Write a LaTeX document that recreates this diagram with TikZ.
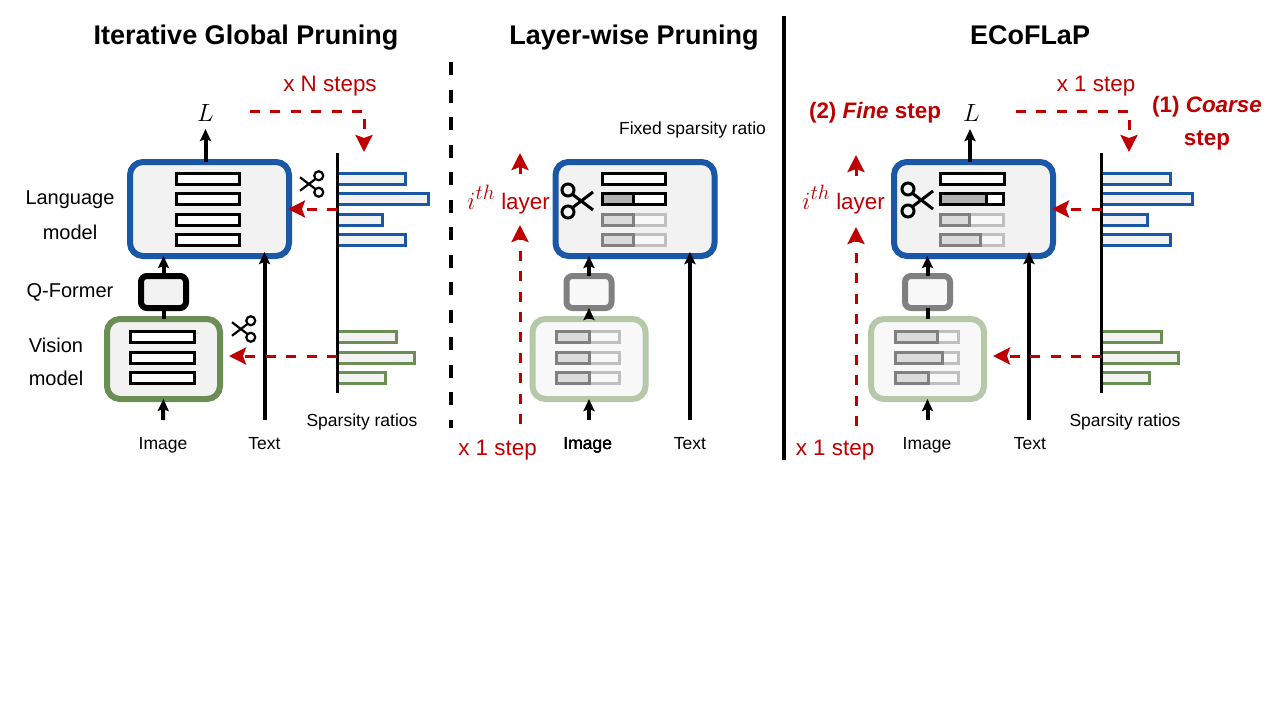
\documentclass[tikz,border=0pt]{standalone}
\usepackage{fontspec}
\setmainfont{Liberation Sans}
\usetikzlibrary{arrows.meta}
\definecolor{langblue}{HTML}{1A57A6}
\definecolor{visgreen}{HTML}{6B8E55}
\definecolor{fadegreen}{HTML}{B5C9A9}
\definecolor{stepred}{HTML}{C00000}
\definecolor{boxfill}{HTML}{F2F2F2}
\definecolor{fadefill}{HTML}{F8F8F8}
\tikzset{
  modelbox/.style={rectangle, outer sep=0pt, inner sep=0pt, rounded corners=13pt, line width=6pt, fill=boxfill},
  langbox/.style={modelbox, draw=langblue, minimum width=159pt, minimum height=94pt},
  qbox/.style={modelbox, draw=black, rounded corners=6pt, minimum width=45pt, minimum height=32pt},
  visbox/.style={modelbox, draw=visgreen, minimum width=113pt, minimum height=80pt},
  fadeq/.style={qbox, draw=black!50, fill=fadefill},
  fadevis/.style={visbox, draw=fadegreen, fill=fadefill},
  flow/.style={line width=4pt, -{Stealth[length=12pt,width=11pt,inset=2pt]}},
  plainline/.style={line width=4pt},
  redflow/.style={draw=stepred, line width=3pt, dash pattern=on 10pt off 10.4pt, -{Stealth[length=17pt,width=17pt,inset=3pt]}},
  layerbar/.style={draw=black, line width=3pt, fill=white},
  ratioblue/.style={draw=langblue, line width=3pt, fill=boxfill},
  ratiogreen/.style={draw=visgreen, line width=3pt, fill=boxfill},
  axisline/.style={line width=3pt},
  title/.style={font=\fontsize{27}{27}\selectfont\bfseries, inner sep=0pt, anchor=base},
  side/.style={font=\fontsize{20}{20}\selectfont, inner sep=0pt, anchor=base},
  small/.style={font=\fontsize{17.5}{17.5}\selectfont, inner sep=0pt, anchor=base},
  redtext/.style={font=\fontsize{22.4}{22.4}\selectfont, text=stepred, inner sep=0pt, anchor=base},
  redbold/.style={redtext, font=\fontsize{22.4}{22.4}\selectfont\bfseries},
  lossname/.style={font=\fontsize{24}{24}\selectfont, inner sep=0pt, anchor=base},
  shears/.pic={
    \draw (-13,-11) circle (6);
    \draw (-13,11) circle (6);
    \draw (-9,-7) -- (12,9);
    \draw (-9,7) -- (12,-9);
  },
  bigcut/.style={line width=3pt},
  smallcut/.style={line width=2.2pt, xscale=-0.75, yscale=0.75}
}
% bar of a layer with the pruned part on its left
\newcommand{\cutbar}[3]{
  \fill[white] (#1,#2-5.5) rectangle (#1+63,#2+5.5);
  \fill[black!30] (#1,#2-5.5) rectangle (#3,#2+5.5);
  \draw[line width=3pt] (#1,#2-5.5) rectangle (#1+63,#2+5.5);
  \draw[line width=3pt] (#3,#2-5.5) -- (#3,#2+5.5);
}
\newcommand{\fadebar}[3]{
  \draw[draw=black!25, fill=fadefill, line width=3pt] (#3,#2-5.5) rectangle (#1+63,#2+5.5);
  \draw[draw=black!50, fill=black!14, line width=3pt] (#1,#2-5.5) rectangle (#3,#2+5.5);
}
\newcommand{\ithname}{{\fontsize{29}{29}\selectfont $i^{th}$} layer}
\begin{document}
\begin{tikzpicture}[x=1pt,y=-1pt]
\useasboundingbox[fill=white] (0,0) rectangle (1280,720);
% titles and separators
\node[title] (title1) at (246,44) {Iterative Global Pruning};
\node[title] (title2) at (634,44) {Layer-wise Pruning};
\node[title] (title3) at (1030,44) {ECoFLaP};
\coordinate (septop1) at (450.5,62);
\coordinate (sepbot1) at (450.5,428);
\coordinate (septop2) at (784,16);
\coordinate (sepbot2) at (784,460);
\draw[line width=4pt, dash pattern=on 13pt off 14.5pt] (septop1) -- (sepbot1);
\draw[line width=4pt] (septop2) -- (sepbot2);

% first panel
\node[langbox] (lang1) at (209.5,209) {};
\node[qbox] (qf1) at (163.5,292) {};
\node[visbox] (vis1) at (163.5,359) {};
\foreach \y in {178.5,199,219.5,240}
	\draw[layerbar] (176.5,\y-5.5) rectangle (239.5,\y+5.5);
\foreach \y in {337,357.5,378}
	\draw[layerbar] (130.5,\y-5.5) rectangle (194.5,\y+5.5);
\node[side] (langa) at (70,204) {Language};
\node[side] (langb) at (70,239) {model};
\node[side] (qname) at (70,297) {Q-Former};
\node[side] (visa) at (56,352) {Vision};
\node[side] (visb) at (56,385) {model};
\node[small] (image1) at (163,449.5) {Image};
\node[small] (text1) at (264.5,449.5) {Text};
\node[small] (ratios1) at (362,426) {Sparsity ratios};
\node[lossname] (loss1) at (205.5,121) {$L$};
\node[redtext] (steps1) at (330,91) {x N steps};
\coordinate (out1) at (205.5,129);
\coordinate (img1) at (163,420);
\coordinate (txt1) at (264.5,420);
\coordinate (txttip1) at (264.5,252);
\draw[flow] (lang1.north -| out1) -- (out1);
\draw[plainline] (vis1.north) -- (qf1.south);
\draw[flow] (qf1.north) -- (lang1.south -| qf1);
\draw[flow] (img1) -- (vis1.south);
\draw[flow] (txt1) -- (txttip1);
\coordinate (axtop1) at (337,153);
\coordinate (axbot1) at (337,393);
\foreach \w/\y in {406/178.5,429/199,383/219.5,406/240}
	\draw[ratioblue] (337,\y-5.5) rectangle (\w-1,\y+5.5);
\foreach \w/\y in {397/337,415/357.5,386/378}
	\draw[ratiogreen] (337,\y-5.5) rectangle (\w-1,\y+5.5);
\draw[axisline] (axtop1) -- (axbot1);
\coordinate (froma1) at (250,111);
\coordinate (toa1) at (364,152);
\coordinate (fromb1) at (337,209);
\coordinate (fromc1) at (337,356);
\draw[redflow] (froma1) -| (toa1);
\draw[redflow] (fromb1) -- (288,209);
\draw[redflow] (fromc1) -- (229,356);
\pic[smallcut] (cut1) at (309,184) {shears};
\pic[smallcut] (cut2) at (241,329) {shears};

% second panel
\node[langbox] (lang2) at (635,209) {};
\node[fadeq] (qf2) at (589,292) {};
\node[fadevis] (vis2) at (589,359) {};
\draw[layerbar] (602,173) rectangle (665,184);
\cutbar{602}{199}{633}
\fadebar{602}{219.5}{633}
\fadebar{602}{240}{633}
\foreach \y in {337,357.5,378}
	\fadebar{556}{\y}{589}
\node[small] (image2) at (587.7,449.5) {Image};
\node[small] (text2) at (690,449.5) {Text};
\node[small] (fixed) at (692.5,134) {Fixed sparsity ratio};
\node[redtext] (ilayer2) at (508.5,209) {\ithname};
\node[redtext] (once2) at (497.5,455) {x 1 step};
\coordinate (img2) at (589,420);
\coordinate (txt2) at (690,420);
\coordinate (txttip2) at (690,252);
\draw[flow] (qf2.north) -- (lang2.south -| qf2);
\draw[flow, line width=3pt] (vis2.north) -- (qf2.south);
\draw[flow] (img2) -- (vis2.south);
\draw[flow] (txt2) -- (txttip2);
\coordinate (upa2) at (520,424);
\coordinate (upb2) at (520,225);
\coordinate (upc2) at (520,174);
\coordinate (upd2) at (520,153);
\draw[redflow] (upa2) -- (upb2);
\draw[redflow] (upc2) -- (upd2);
\pic[bigcut] (cut3) at (581,201) {shears};

% third panel
\node[langbox] (lang3) at (973.5,209) {};
\node[fadeq] (qf3) at (927.5,292) {};
\node[fadevis] (vis3) at (927.5,359) {};
\draw[layerbar] (940.5,173) rectangle (1004.5,184);
\cutbar{940.5}{199}{986}
\fadebar{940.5}{219.5}{969}
\fadebar{940.5}{240}{980}
\fadebar{895.5}{337}{937}
\fadebar{895.5}{357.5}{942}
\fadebar{895.5}{378}{928}
\node[small] (image3) at (927,449.5) {Image};
\node[small] (text3) at (1030,449.5) {Text};
\node[small] (ratios3) at (1125,426) {Sparsity ratios};
\node[lossname] (loss3) at (971.5,121) {$L$};
\node[redtext] (once3) at (1096,91) {x 1 step};
\node[redbold] (fine) at (875,118) {(2) \textit{Fine} step};
\node[redbold] (coarsea) at (1207,112) {(1) \textit{Coarse}};
\node[redbold] (coarseb) at (1207,145) {step};
\node[redtext] (ilayer3) at (843.5,209) {\ithname};
\node[redtext] (twice3) at (835,455) {x 1 step};
\coordinate (out3) at (970,129);
\coordinate (img3) at (927.5,420);
\coordinate (txt3) at (1029,420);
\coordinate (txttip3) at (1029,252);
\draw[flow] (lang3.north -| out3) -- (out3);
\draw[plainline] (vis3.north) -- (qf3.south);
\draw[flow] (qf3.north) -- (lang3.south -| qf3);
\draw[flow] (img3) -- (vis3.south);
\draw[flow] (txt3) -- (txttip3);
\coordinate (axtop3) at (1101.5,153);
\coordinate (axbot3) at (1101.5,393);
\foreach \w/\y in {1171/178.5,1193/199,1148/219.5,1171/240}
	\draw[ratioblue] (1101.5,\y-5.5) rectangle (\w-1,\y+5.5);
\foreach \w/\y in {1162/337,1179/357.5,1150/378}
	\draw[ratiogreen] (1101.5,\y-5.5) rectangle (\w-1,\y+5.5);
\draw[axisline] (axtop3) -- (axbot3);
\coordinate (froma3) at (1016,111);
\coordinate (toa3) at (1129,152);
\coordinate (fromb3) at (1101.5,209);
\coordinate (fromc3) at (1101.5,356);
\draw[redflow] (froma3) -| (toa3);
\draw[redflow] (fromb3) -- (1052,209);
\draw[redflow] (fromc3) -- (993,356);
\coordinate (upa3) at (856,426);
\coordinate (upb3) at (856,227);
\coordinate (upc3) at (856,176);
\coordinate (upd3) at (856,155);
\draw[redflow] (upa3) -- (upb3);
\draw[redflow] (upc3) -- (upd3);
\pic[bigcut] (cut4) at (921,200) {shears};
\end{tikzpicture}
\end{document}
